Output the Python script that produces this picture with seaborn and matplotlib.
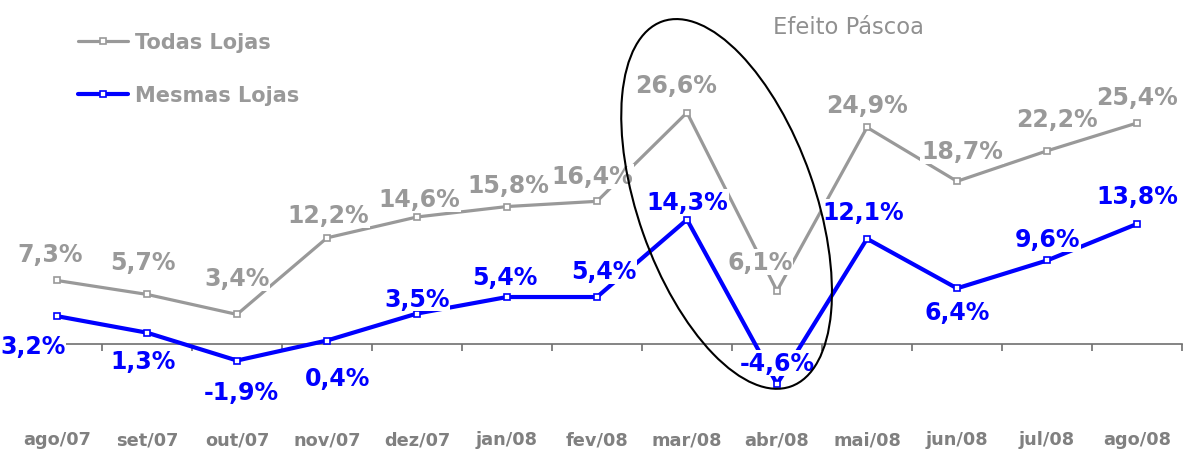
import matplotlib
matplotlib.use("Agg")
import matplotlib.pyplot as plt
import seaborn as sns
import pandas as pd
from matplotlib.patches import Ellipse
from matplotlib.transforms import IdentityTransform
from matplotlib.ticker import FixedLocator

meses = ["ago/07", "set/07", "out/07", "nov/07", "dez/07", "jan/08", "fev/08",
         "mar/08", "abr/08", "mai/08", "jun/08", "jul/08", "ago/08"]
todas_lojas = [7.3, 5.7, 3.4, 12.2, 14.6, 15.8, 16.4, 26.6, 6.1, 24.9, 18.7, 22.2, 25.4]
mesmas_lojas = [3.2, 1.3, -1.9, 0.4, 3.5, 5.4, 5.4, 14.3, -4.6, 12.1, 6.4, 9.6, 13.8]

# deslocamento dos rótulos em pixels (dx, dy) em relação ao ponto
desloc_todas = [(-7, 26), (-4, 32), (0, 36), (1, 23), (2, 18), (1, 22), (-5, 25),
                (-11, 28), (-17, 29), (0, 22), (5, 30), (10, 32), (0, 26)]
desloc_mesmas = [(-24, -30), (-4, -28), (4, -31), (11, -37), (0, 15), (-2, 20), (7, 26),
                 (0, 18), (0, 21), (-4, 27), (0, -24), (1, 21), (0, 28)]

CINZA = "#999999"
AZUL = "#0000FF"

sns.set_theme(style="white")
plt.rcParams["font.family"] = ["DejaVu Sans"]

df_todas = pd.DataFrame({"mes": meses, "valor": todas_lojas})
df_mesmas = pd.DataFrame({"mes": meses, "valor": mesmas_lojas})

fig = plt.figure(figsize=(11.99, 4.52), dpi=100)
ax = fig.add_axes([12 / 1199, 0, 1170 / 1199, 1])

sns.lineplot(data=df_todas, x="mes", y="valor", sort=False, ax=ax, color=CINZA,
             linewidth=2.3, marker="s", markersize=5, markerfacecolor="white",
             markeredgecolor=CINZA, markeredgewidth=1.2, label="Todas Lojas", zorder=3)
sns.lineplot(data=df_mesmas, x="mes", y="valor", sort=False, ax=ax, color=AZUL,
             linewidth=3, marker="s", markersize=5, markerfacecolor="white",
             markeredgecolor=AZUL, markeredgewidth=1.2, label="Mesmas Lojas", zorder=3)

ax.set_xlim(-0.5, 12.5)
ax.set_ylim(-(452 - 345) / 8.7, 345 / 8.7)

# rótulos de dados
for serie, desloc, cor in [(todas_lojas, desloc_todas, CINZA),
                           (mesmas_lojas, desloc_mesmas, AZUL)]:
    for i, (v, (dx, dy)) in enumerate(zip(serie, desloc)):
        txt = f"{v:.1f}%".replace(".", ",")
        ax.annotate(txt, (i, v), xytext=(dx, dy), textcoords="offset pixels",
                    ha="center", va="center", fontsize=17, fontweight="bold",
                    color=cor, zorder=5,
                    bbox=dict(facecolor="white", edgecolor="none", pad=0.5))

# eixo x no zero, marcas entre categorias
for lado in ["top", "right", "left"]:
    ax.spines[lado].set_visible(False)
ax.spines["bottom"].set_position(("data", 0))
ax.spines["bottom"].set_color("#707070")
ax.spines["bottom"].set_linewidth(1.2)
ax.set_yticks([])
ax.set_xticks(range(len(meses)))
ax.set_xticklabels(meses)
ax.xaxis.set_minor_locator(FixedLocator([i - 0.5 for i in range(len(meses) + 1)]))
ax.tick_params(axis="x", which="major", length=0, pad=62, labelsize=12.8,
               labelcolor="#808080")
ax.tick_params(axis="x", which="minor", length=5, width=1.2, color="#707070",
               direction="out", bottom=True)
for lbl in ax.get_xticklabels():
    lbl.set_fontweight("bold")
ax.set_xlabel("")
ax.set_ylabel("")

# legenda
leg = ax.legend(loc="upper left", bbox_to_anchor=(78 / 1199, 1 - 33 / 452),
                bbox_transform=fig.transFigure, frameon=False, borderpad=0,
                borderaxespad=0, handlelength=2.4, handletextpad=0.35,
                labelspacing=1.6, prop={"size": 15, "weight": "bold"})
for t in leg.get_texts():
    t.set_color(CINZA)

# destaque do efeito Páscoa
cx, cy = ax.transData.transform((7.44, 16.1))
elipse = Ellipse((cx, cy), width=177, height=387, angle=19.4, fill=False,
                 edgecolor="black", linewidth=1.5, transform=IdentityTransform(),
                 clip_on=False, zorder=6)
ax.add_patch(elipse)
fig.text(848 / 1199, 1 - 28 / 452, "Efeito Páscoa", ha="center", va="center",
         fontsize=16.3, color="#909090")

fig.savefig("out.png", dpi=100)
